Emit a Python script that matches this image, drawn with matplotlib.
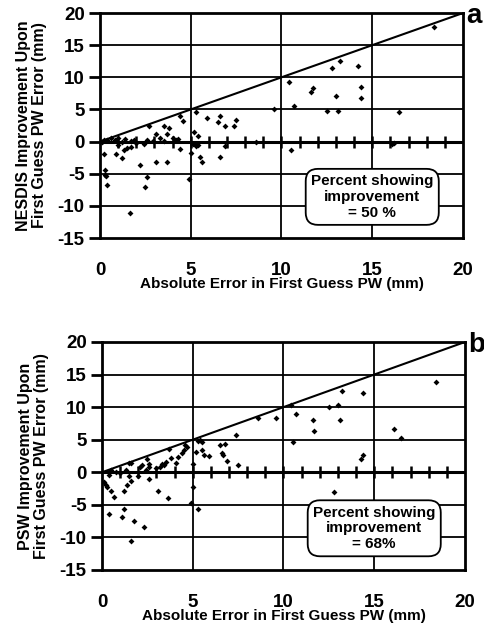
import numpy as np
import matplotlib
matplotlib.use('Agg')
import matplotlib.pyplot as plt

plt.rcParams['font.family'] = ['Liberation Sans', 'DejaVu Sans']
plt.rcParams['font.weight'] = 'bold'
plt.rcParams['axes.unicode_minus'] = False

# Panel a: NESDIS improvement vs first guess error
xa = [5.3, 4.4, 4.6, 5.9, 6.6, 6.5, 6.9, 7.5, 7.4, 9.6, 10.4, 2.7, 3.5, 3.8, 3.1, 3.7, 3.3,
      5.2, 5.4, 4.0, 4.3,
      0.2, 0.6, 1.0, 1.4, 1.7, 2.0, 2.4, 1.9, 2.9, 0.4, 0.8, 1.2, 2.6, 3.5, 4.2, 0.1,
      0.2, 0.3, 0.3, 0.35, 0.4, 0.9, 1.2, 1.3, 1.5, 1.65, 2.2, 2.6, 2.5, 3.1, 3.7, 4.4,
      5.0, 4.9, 5.5, 5.6, 5.3, 5.4, 6.6, 6.9, 8.6, 1.0, 1.7, 5.1,
      18.4, 12.8, 13.2, 14.2, 11.6, 11.75, 13.0, 14.4, 14.4, 10.7, 12.5, 13.1, 16.5,
      10.5, 16.1, 16.2]
ya = [4.6, 4.0, 3.2, 3.6, 4.0, 3.0, 2.4, 3.4, 2.5, 5.0, 9.3, 2.5, 2.5, 2.1, 1.25, 1.2, 0.6,
      1.5, 0.8, 0.6, 0.4,
      0.3, 0.5, 0.6, 0.4, 0.1, -0.2, -0.3, 0.3, 0.1, 0.2, 0.3, -0.1, 0.2, 0.1, 0.2, 0.0,
      -2.0, -4.4, -5.2, -5.4, -6.8, -2.0, -2.5, -1.25, -1.0, -11.1, -3.6, -5.5, -7.0, -3.2, -3.2, -1.1,
      -1.8, -5.8, -2.4, -3.2, -0.7, -0.5, -2.4, -0.7, -0.1, -0.6, -0.9, -0.3,
      17.9, 11.4, 12.5, 11.7, 7.7, 8.4, 7.1, 8.5, 6.8, 5.5, 4.7, 4.7, 4.6,
      -1.25, -0.3, -0.2]

# Panel b: PSW improvement vs first guess error
xb = [5.4, 5.3, 5.5, 8.6, 9.6, 7.4, 6.5, 6.8, 6.6, 6.65, 6.9, 7.5, 5.2, 5.5, 5.6, 5.9, 5.0,
      4.6, 4.7, 4.5, 4.4, 4.2, 4.1, 3.8, 3.7, 3.2, 3.3, 3.5, 3.4, 2.6, 2.6, 2.5, 2.2, 2.1,
      1.6, 1.5, 0.5, 0.8, 1.0, 3.0, 2.4, 1.3,
      18.4, 13.2, 14.4, 10.4, 12.5, 13.0, 10.7, 11.6, 13.1, 11.7, 10.5, 16.1, 16.5, 14.4,
      14.25, 12.8,
      0.2, 0.26, 0.5, 0.66, 0.39, 1.2, 1.36, 1.6, 1.2, 1.1, 1.76, 2.3, 1.6, 2.6, 3.1, 3.65,
      5.0, 4.9, 5.3, 1.5, 2.0, 0.4, 0.1]
yb = [4.9, 4.8, 4.7, 8.3, 8.4, 5.7, 4.2, 4.3, 2.9, 2.6, 1.7, 1.1, 3.1, 3.4, 2.7, 2.5, 1.3,
      4.2, 3.9, 3.4, 3.0, 2.4, 1.4, 2.2, 3.6, 0.8, 1.2, 1.5, 1.1, 1.3, 0.8, 2.1, 1.1, 0.8,
      1.4, 1.4, 0.3, 0.1, -0.1, 0.6, 0.3, 0.4,
      13.9, 12.5, 12.2, 10.3, 10.0, 10.4, 8.9, 8.1, 8.0, 6.4, 4.6, 6.7, 5.3, 2.7,
      2.0, -3.0,
      -2.0, -2.3, -2.9, -3.8, -6.4, -2.8, -2.0, -1.3, -5.6, -6.8, -7.5, -8.4, -10.6, -1.1, -2.9, -4.0,
      -2.2, -4.7, -5.6, -0.5, -0.6, -0.4, -1.5]

xticks = [0, 5, 10, 15, 20]
yticks = [-15, -10, -5, 0, 5, 10, 15, 20]
minor_x = np.arange(1, 20)

panels = [
    (xa, ya, [0.2066, 0.6198, 0.75, 0.3594], 'NESDIS Improvement Upon\nFirst Guess PW Error (mm)',
     'Percent showing\nimprovement\n= 50 %', 'a'),
    (xb, yb, [0.2107, 0.0895, 0.75, 0.3642], 'PSW Improvement Upon\nFirst Guess PW Error (mm)',
     'Percent showing\nimprovement\n= 68%', 'b'),
]

fig = plt.figure(figsize=(4.84, 6.26), dpi=100)

for x, y, pos, ylab, note, letter in panels:
    ax = fig.add_axes(pos)
    ax.set_xlim(0, 20)
    ax.set_ylim(-15, 20)
    # grid
    for gx in [5, 10, 15]:
        ax.axvline(gx, color='black', lw=1.3, zorder=1)
    for gy in [-10, -5, 5, 10, 15]:
        ax.axhline(gy, color='black', lw=1.3, zorder=1)
    ax.axhline(0, color='black', lw=2.2, zorder=2)
    ax.plot(minor_x, np.zeros_like(minor_x), linestyle='none', marker='|',
            markersize=9, mew=1.8, color='black', zorder=2)
    # 1:1 line
    ax.plot([0, 20], [0, 20], color='black', lw=1.5, zorder=3)
    ax.scatter(x, y, marker='D', s=9, color='black', zorder=4, linewidths=0)

    ax.set_xticks(xticks)
    ax.set_yticks(yticks)
    ax.tick_params(axis='x', length=0, pad=17, labelsize=13.5)
    ax.tick_params(axis='y', direction='out', length=8, width=2, pad=3, labelsize=13.5)
    for lab in ax.get_xticklabels() + ax.get_yticklabels():
        lab.set_fontweight('bold')
    for sp in ax.spines.values():
        sp.set_linewidth(2)
    ax.set_xlabel('Absolute Error in First Guess PW (mm)', fontsize=11, fontweight='bold', labelpad=-1)
    ax.set_ylabel(ylab, fontsize=11.5, fontweight='bold', labelpad=8, linespacing=1.05)
    ax.text(15, -8.6, note, ha='center', va='center', fontsize=11, fontweight='bold',
            linespacing=1.15, zorder=5,
            bbox=dict(boxstyle='round,pad=0.35,rounding_size=0.8', facecolor='white',
                      edgecolor='black', lw=1.3))
    ax.text(1.01, 0.985, letter, transform=ax.transAxes, ha='left', va='center',
            fontsize=20, fontweight='bold')

fig.savefig('out.png', dpi=100)
